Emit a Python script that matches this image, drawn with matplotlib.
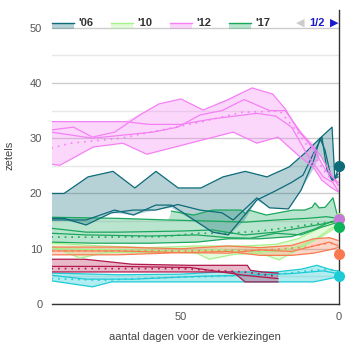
import numpy as np
import matplotlib.pyplot as plt
from matplotlib.patches import Rectangle
from matplotlib.lines import Line2D

plt.rcParams['font.family'] = ['Liberation Sans', 'DejaVu Sans']

# '06 (teal)
t06_hi_d = [91, 87, 79.4, 71.5, 64.6, 57.9, 50.9, 43.7, 36.7, 29.7, 22.8, 15.8, 10.8, 6, 2.2, 1.3, 0.3]
t06_hi_v = [20, 20, 23, 24, 21, 24, 21, 21, 23, 24, 23, 24.8, 27.3, 30, 32, 22.5, 24.5]
t06_lo_d = [91, 87, 80, 72, 65, 58, 53, 40, 35, 30, 26, 22, 16, 12, 8, 6, 3, 1.5, 0.3]
t06_lo_v = [15.2, 15.2, 14.3, 16.5, 16.1, 17, 17.4, 13, 12.5, 15, 18.8, 17.4, 17.2, 20.6, 24.5, 27, 23.5, 22.4, 23]
t06_b_d = [91, 87, 80, 72, 65, 58, 51, 44, 37, 33.5, 26, 22, 16, 12, 8, 6, 4.4, 2.8, 1.9, 0.3]
t06_b_v = [15.5, 15.5, 14.3, 16.5, 17, 17, 18, 17, 16.5, 15.2, 19.2, 17.4, 17.2, 20.6, 26, 30, 27.8, 23.7, 22.4, 23.5]
t06_c_d = [91, 80, 71, 65, 58, 53, 40, 35, 26, 20, 15, 11.4, 7.6, 5.4, 3.8, 2.2, 0.3]
t06_c_v = [15.2, 15.2, 17, 16.1, 17.9, 17.9, 13, 12.5, 18.8, 20.5, 22, 23.3, 27.8, 30.2, 24.2, 22.4, 23]
t06_result = 25

# '10 (light green)
l10_hi_d = [91, 75, 60, 45, 30, 20, 13, 8, 3, 0.3]
l10_hi_v = [11, 10.5, 10.2, 10.5, 10.5, 10.8, 11.8, 13.2, 14.8, 15.5]
l10_lo_d = [91, 82, 74, 55, 45, 41, 33, 25, 19, 14, 8, 3, 0.3]
l10_lo_v = [10.5, 8.3, 9.3, 9.4, 9.2, 8.1, 9, 9.2, 8, 9.5, 11.5, 13.5, 14.5]
l10_c_d = [91, 70, 50, 38, 28, 20, 12, 6, 2, 0.3]
l10_c_v = [10, 9.8, 9.6, 9.8, 9.5, 9.5, 10.5, 12, 13.5, 15]
l10_result = 15.5

# '12 (pink)
p12_hi_d = [91, 68, 65, 57, 50, 43, 27.5, 21, 17, 13, 8, 4, 0.3]
p12_hi_v = [33, 33, 33.8, 36.2, 37.1, 35.1, 39.1, 38, 35.3, 31.5, 29.1, 23.7, 22.4]
p12_lo_d = [91, 88.3, 77.8, 68.4, 60.8, 33.5, 26, 19.3, 12.3, 8.2, 5.4, 2.8, 0.3]
p12_lo_v = [25.3, 25.1, 28.4, 29.1, 27.1, 31.1, 29.1, 30.2, 26.6, 24.8, 22.4, 21.2, 20.3]
p12_a_d = [91, 84, 78, 71, 63, 57, 50, 43, 35, 27.5, 21, 17, 13, 8, 4, 0.3]
p12_a_v = [31.5, 32, 30.2, 31.1, 34.2, 36.2, 37.1, 35.1, 37, 39.1, 38, 35.3, 31.5, 28, 24, 22]
p12_b_d = [91, 78, 59, 51, 44, 37, 30, 22, 17, 12, 6, 3, 0.3]
p12_b_v = [31.1, 30, 31.1, 32, 34.2, 35, 37, 35, 35, 31, 27, 24, 21.5]
p12_d_d = [91, 68, 60, 50, 40, 33, 26, 20, 15, 10, 5, 2, 0.3]
p12_d_v = [33, 33, 32.5, 32.5, 33.5, 34, 34.5, 34, 32, 27, 23, 22, 20.5]
p12_m_d = [91, 85, 69, 44, 30.7, 18.7, 13, 8, 4, 0.3]
p12_m_v = [28.2, 29.1, 30, 32.9, 34.7, 34.9, 31, 27, 23.5, 21.5]
p12_result = 15.3

# '17 (green)
g17_hi_d = [91, 70, 54, 53, 46, 40, 31, 29.5, 28.5, 23, 14.5, 10.8, 8.5, 7.6, 6.3, 4.4, 1.9, 0.3]
g17_hi_v = [15.7, 15.5, 15.2, 16.8, 16.1, 17, 17, 16.3, 17, 16.1, 17, 17, 17.5, 18.3, 17.4, 17.5, 19.2, 15.5]
g17_lo_d = [91, 78, 60, 45, 35, 25, 15, 8, 3, 0.3]
g17_lo_v = [11.2, 11, 11, 11.2, 11.8, 11.8, 12.2, 13.5, 14.8, 15.2]
g17_b_d = [91, 70, 54, 40, 30, 20, 10, 4, 0.3]
g17_b_v = [15.7, 15.5, 15.2, 15, 14.8, 15.2, 15.5, 15.8, 15.5]
g17_c_d = [91, 80, 70, 50, 40, 30, 20, 10, 5, 0.3]
g17_c_v = [13.7, 13, 13, 13.2, 13.4, 12.5, 13, 14, 14.5, 15]
g17_d_d = [91, 80, 60, 45, 35, 28, 20, 12, 6, 0.3]
g17_d_v = [12.8, 12.5, 12.3, 12.5, 12, 11.9, 12.8, 12.5, 13.8, 14.8]
g17_m_d = [91, 75, 55, 45, 35, 25, 15, 8, 3, 0.3]
g17_m_v = [12.1, 12.1, 12.2, 12.8, 12.8, 13.2, 13.9, 14.5, 14.8, 15]
g17_result = 14

# orange
or_d = [91, 70, 50, 35, 25, 15, 8, 3, 0.3]
or_hi_v = [10.3, 10.3, 10, 10.5, 10.2, 10.6, 11.8, 12, 11.5]
or_mid_v = [9.6, 9.6, 9.3, 9.2, 9.8, 9.5, 10.5, 11.2, 10.5]
or_lo_v = [8.9, 8.9, 9.3, 9.5, 8.8, 8.8, 9.2, 9.8, 10.2]
or_m_d = [91, 50, 25, 10, 3, 0.3]
or_m_v = [9.6, 9.6, 9.7, 10.3, 11, 10.8]
or_result = 9

# crimson
cr_hi_d = [91, 80.4, 65.5, 47, 29, 28, 24.4, 19.3]
cr_hi_v = [8.1, 8.1, 7.2, 7, 7, 6.1, 5.8, 5.6]
cr_lo_d = [91, 47, 33.5, 29.7, 19.3]
cr_lo_v = [5.8, 5.8, 5.8, 4, 4]
cr_c_d = [91, 70, 47, 30, 19.3]
cr_c_v = [6.8, 6.8, 6.6, 5.2, 4.6]
cr_m_d = [91, 50, 30, 19.3]
cr_m_v = [6.4, 6.4, 5.8, 5]

# cyan
cy_hi_d = [91, 70, 50, 38, 20, 12, 7, 2, 0.3]
cy_hi_v = [5.6, 5.3, 5.4, 5.8, 5.8, 6.3, 7, 6.1, 6]
cy_lo_d = [91, 78, 72, 50, 20, 10.8, 8, 0.3]
cy_lo_v = [4.2, 3.1, 4, 4, 4, 4, 4, 4.9]
cy_c_d = [91, 80, 65, 45, 30, 15, 5, 0.3]
cy_c_v = [5.2, 4.5, 4.5, 5, 5.2, 5.5, 6, 5.5]
cy_m_d = [91, 75, 60, 40, 20, 10, 3, 0.3]
cy_m_v = [4.6, 4.3, 4.7, 5, 5.3, 6, 6.3, 6]
cy_result = 5

legend_labels = ["'06", "'10", "'12", "'17"]

c_teal = '#0d6b7a'
c_lgreen = '#a6f28a'
c_pink = '#f57ff5'
c_green = '#1aa85c'
c_orange = '#f97a50'
c_crimson = '#b3174c'
c_cyan = '#1dcbd5'

fig = plt.figure(figsize=(3.47, 3.5), dpi=100)
ax = fig.add_axes([52 / 347, 46 / 350, 287 / 347, 294 / 350])


def band(hi_d, hi_v, lo_d, lo_v, color, alpha=0.3):
    xs = list(hi_d) + list(lo_d)[::-1]
    ys = list(hi_v) + list(lo_v)[::-1]
    ax.fill(xs, ys, color=color, alpha=alpha, lw=0, zorder=2)


def line(d, v, color, dotted=False):
    if dotted:
        ax.plot(d, v, color=color, lw=1.2, ls=(0, (1, 3)), zorder=3)
    else:
        ax.plot(d, v, color=color, lw=0.9, zorder=3)


# cyan
band(cy_hi_d, cy_hi_v, cy_lo_d, cy_lo_v, c_cyan, 0.35)
for d, v in [(cy_hi_d, cy_hi_v), (cy_lo_d, cy_lo_v), (cy_c_d, cy_c_v)]:
    line(d, v, c_cyan)
line(cy_m_d, cy_m_v, c_cyan, True)

# crimson
band(cr_hi_d, cr_hi_v, cr_lo_d, cr_lo_v, c_crimson, 0.3)
for d, v in [(cr_hi_d, cr_hi_v), (cr_lo_d, cr_lo_v), (cr_c_d, cr_c_v)]:
    line(d, v, c_crimson)
line(cr_m_d, cr_m_v, c_crimson, True)

# light green '10
band(l10_hi_d, l10_hi_v, l10_lo_d, l10_lo_v, c_lgreen, 0.3)
for d, v in [(l10_hi_d, l10_hi_v), (l10_lo_d, l10_lo_v), (l10_c_d, l10_c_v)]:
    line(d, v, c_lgreen)

# orange
band(or_d, or_hi_v, or_d, or_lo_v, c_orange, 0.3)
for v in [or_hi_v, or_mid_v, or_lo_v]:
    line(or_d, v, c_orange)
line(or_m_d, or_m_v, c_orange, True)

# green '17
band(g17_hi_d, g17_hi_v, g17_lo_d, g17_lo_v, c_green, 0.3)
for d, v in [(g17_hi_d[3:], g17_hi_v[3:]), (g17_lo_d, g17_lo_v), (g17_b_d, g17_b_v),
             (g17_c_d, g17_c_v), (g17_d_d, g17_d_v)]:
    line(d, v, c_green)
line(g17_m_d, g17_m_v, c_green, True)

# teal '06
band(t06_hi_d, t06_hi_v, t06_lo_d, t06_lo_v, c_teal, 0.3)
for d, v in [(t06_hi_d, t06_hi_v), (t06_b_d, t06_b_v), (t06_c_d, t06_c_v)]:
    line(d, v, c_teal)

# pink '12
band(p12_hi_d, p12_hi_v, p12_lo_d, p12_lo_v, c_pink, 0.3)
for d, v in [(p12_a_d, p12_a_v), (p12_b_d, p12_b_v), (p12_lo_d, p12_lo_v), (p12_d_d, p12_d_v)]:
    line(d, v, c_pink)
line(p12_m_d, p12_m_v, c_pink, True)

# results on election day
dots = [(l10_result, c_lgreen), (p12_result, '#c57ad8'), (g17_result, '#0db35a'),
        (t06_result, c_teal), (or_result, c_orange), (cy_result, c_cyan)]
for val, col in dots:
    ax.plot([0], [val], 'o', color=col, ms=8, mec='none', clip_on=False, zorder=5)

ax.set_xlim(90.8, 0)
ax.set_ylim(0, 53.2)
ax.set_xticks([50, 0])
ax.set_yticks([0, 10, 20, 30, 40, 50])
ax.set_yticks([5, 15, 25, 35, 45], minor=True)
ax.grid(axis='y', which='major', color='#cccccc', lw=1, zorder=0)
ax.grid(axis='y', which='minor', color='#e8e8e8', lw=1, zorder=0)
ax.set_axisbelow(True)
ax.tick_params(axis='both', which='both', length=0, labelsize=8, labelcolor='#555555')
ax.tick_params(axis='x', pad=6)
ax.tick_params(axis='y', pad=7)
for s in ['top', 'left']:
    ax.spines[s].set_visible(False)
for s in ['bottom', 'right']:
    ax.spines[s].set_color('#333333')
    ax.spines[s].set_linewidth(1)
    ax.spines[s].set_zorder(4)

ax.set_ylabel('zetels', fontsize=8, color='#444444')
ax.yaxis.set_label_coords(-0.129, 0.507)
ax.set_xlabel('aantal dagen voor de verkiezingen', fontsize=8, color='#444444')
ax.xaxis.label.set_va('center')
ax.xaxis.set_label_coords(0.498, -0.112)

# legend (page 1 of 2)
leg_cols = [(c_teal, 0.3), (c_lgreen, 0.3), (c_pink, 0.3), (c_green, 0.3)]
leg_x = [52, 111, 170, 229]
for lab, (col, a), x in zip(legend_labels, leg_cols, leg_x):
    fig.patches.append(Rectangle((x / 347, (350 - 29) / 350), 22 / 347, 6 / 350,
                                 transform=fig.transFigure, color=col, alpha=a, lw=0))
    fig.lines.append(Line2D([x / 347, (x + 22) / 347], [(350 - 23) / 350] * 2,
                            transform=fig.transFigure, color=col, lw=1))
    fig.text((x + 26) / 347, (350 - 23) / 350, lab, fontsize=8, fontweight='bold',
             color='#333333', va='center', ha='left')
fig.text(300 / 347, (350 - 23) / 350, '\u25c0', fontsize=8, color='#cccccc',
         va='center', ha='center', family='DejaVu Sans')
fig.text(317 / 347, (350 - 23) / 350, '1/2', fontsize=8, fontweight='bold',
         color='#1a1acc', va='center', ha='center')
fig.text(334 / 347, (350 - 23) / 350, '\u25b6', fontsize=8, color='#1a1acc',
         va='center', ha='center', family='DejaVu Sans')

fig.savefig('out.png', dpi=100)
